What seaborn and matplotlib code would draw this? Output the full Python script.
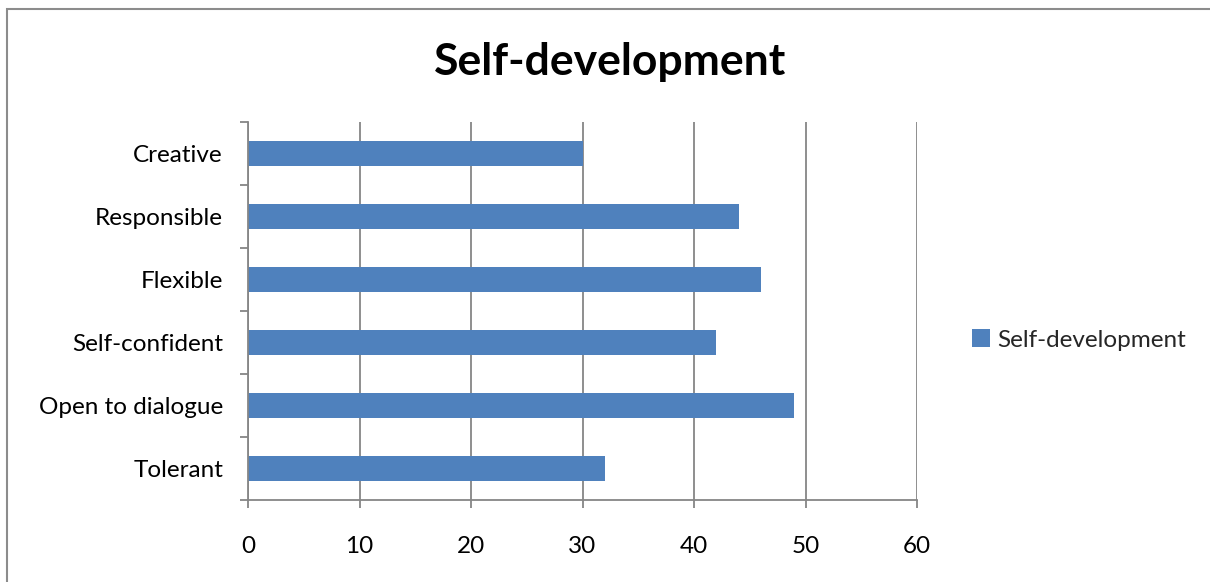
import matplotlib
matplotlib.use("Agg")
import matplotlib.pyplot as plt
import seaborn as sns
import pandas as pd
from matplotlib.patches import Patch, Rectangle
from matplotlib.ticker import FixedLocator

categories = ["Creative", "Responsible", "Flexible", "Self-confident", "Open to dialogue", "Tolerant"]
values = [30, 44, 46, 42, 49, 32]
series_name = "Self-development"
x_ticks = [0, 10, 20, 30, 40, 50, 60]

sns.set_theme(style="white")
plt.rcParams["font.family"] = ["Lato", "DejaVu Sans"]

W, H = 1210, 582
fig = plt.figure(figsize=(W / 100, H / 100), dpi=100)
ax = fig.add_axes([248 / W, 1 - 500 / H, (917 - 248) / W, (500 - 122) / H])

df = pd.DataFrame({"category": categories, "value": values})
sns.barplot(data=df, x="value", y="category", order=categories, color="#4F81BD",
            saturation=1, width=0.4, ax=ax, orient="h", linewidth=0)

grid_c = "#868686"
ax.set_xlim(0, 60)
ax.set_ylim(len(categories) - 0.5, -0.5)
ax.set_xticks(x_ticks)
ax.set_xticklabels([str(t) for t in x_ticks])
ax.grid(axis="x", color=grid_c, linewidth=1.3)
ax.set_axisbelow(True)
ax.set_xlabel("")
ax.set_ylabel("")
for s in ["top", "right"]:
    ax.spines[s].set_visible(False)
for s in ["left", "bottom"]:
    ax.spines[s].set_color(grid_c)
    ax.spines[s].set_linewidth(1.3)

ax.yaxis.set_minor_locator(FixedLocator([i - 0.5 for i in range(len(categories) + 1)]))
ax.tick_params(axis="y", which="major", length=0, pad=18, labelsize=17.5, labelcolor="black")
ax.tick_params(axis="y", which="minor", left=True, length=6, width=1.3, color=grid_c, direction="out")
ax.tick_params(axis="x", which="major", bottom=True, length=6, width=1.3, color=grid_c,
               direction="out", pad=20, labelsize=17.5, labelcolor="black")

fig.text(610 / W, 1 - 62 / H, "Self-development", ha="center", va="center",
         fontsize=32, fontweight="bold", color="black")

handle = Patch(facecolor="#4F81BD", edgecolor="none", label=series_name)
fig.legend(handles=[handle], loc="center left", bbox_to_anchor=(972 / W, 1 - 340 / H),
           frameon=False, fontsize=17.5, handlelength=0.75, handleheight=0.75,
           handletextpad=0.3, borderpad=0, borderaxespad=0)

fig.patches.append(Rectangle((7 / W, -0.1), 1.2, 1 - 9 / H + 0.1, transform=fig.transFigure,
                             fill=False, edgecolor="#8C8C8C", linewidth=1.5, zorder=10))

fig.savefig("out.png", dpi=100, facecolor="white")
